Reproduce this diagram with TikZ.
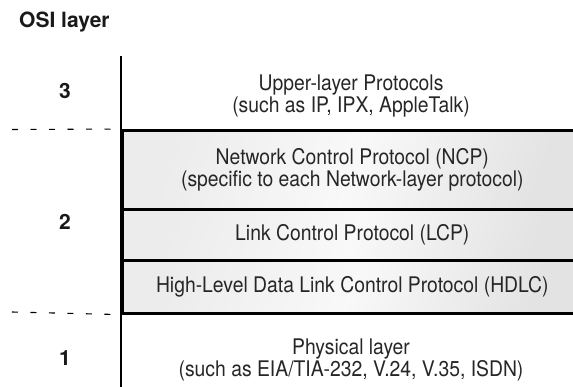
\documentclass[tikz,border=0pt]{standalone}
\usepackage{fontspec}
\setmainfont{TeX Gyre Heros}
\newfontfamily\narrowfont[FakeStretch=0.9]{TeX Gyre Heros}
\begin{document}
\begin{tikzpicture}[x=1pt,y=-1pt,
  boxfill/.style={left color=gray!15, right color=gray!22, middle color=gray!5, shading angle=70},
  layerbox/.style={boxfill, draw=black, line width=2.6pt, anchor=north west, inner sep=0pt, minimum width=460pt},
  desc/.style={font=\narrowfont\fontsize{21.5}{22}\selectfont, align=center, text=black!85},
  num/.style={font=\bfseries\fontsize{21}{24}\selectfont, text=black!90},
  divider/.style={dash pattern=on 6pt off 12.5pt, line width=1.1pt},
  axisline/.style={line width=1.6pt}]
\useasboundingbox (0,0) rectangle (573,386);

% title
\node[num, anchor=base west, inner sep=0pt] (title) at (19,27.5) {OSI layer};

% layer 2 boxes
\node[layerbox, desc, minimum height=79pt] (ncp) at (121,129)
  {Network Control Protocol (NCP)\\(specific to each Network-layer protocol)};
\node[layerbox, desc, minimum height=51pt] (lcp) at (121,208)
  {Link Control Protocol (LCP)};
\node[layerbox, desc, minimum height=53pt] (hdlc) at (121,259)
  {High-Level Data Link Control Protocol (HDLC)};

% axis
\coordinate (vtop) at (121,56);
\coordinate (vbot) at (121,387);
\draw[axisline] (vtop) -- (vbot);

% dashed dividers
\coordinate (d1) at (12,129.5);
\coordinate (d2) at (12,312);
\draw[divider] (d1) -- (ncp.north west);
\draw[divider] (d2) -- (hdlc.south west);

% other layers
\node[desc] (upper) at (351,96) {Upper-layer Protocols\\(such as IP, IPX, AppleTalk)};
\node[desc] (phys) at (351,360) {Physical layer\\(such as EIA/TIA-232, V.24, V.35, ISDN)};

% layer numbers
\node[num] (n3) at (65,91) {3};
\node[num] (n2) at (65,222) {2};
\node[num] (n1) at (65,358) {1};
\end{tikzpicture}
\end{document}
